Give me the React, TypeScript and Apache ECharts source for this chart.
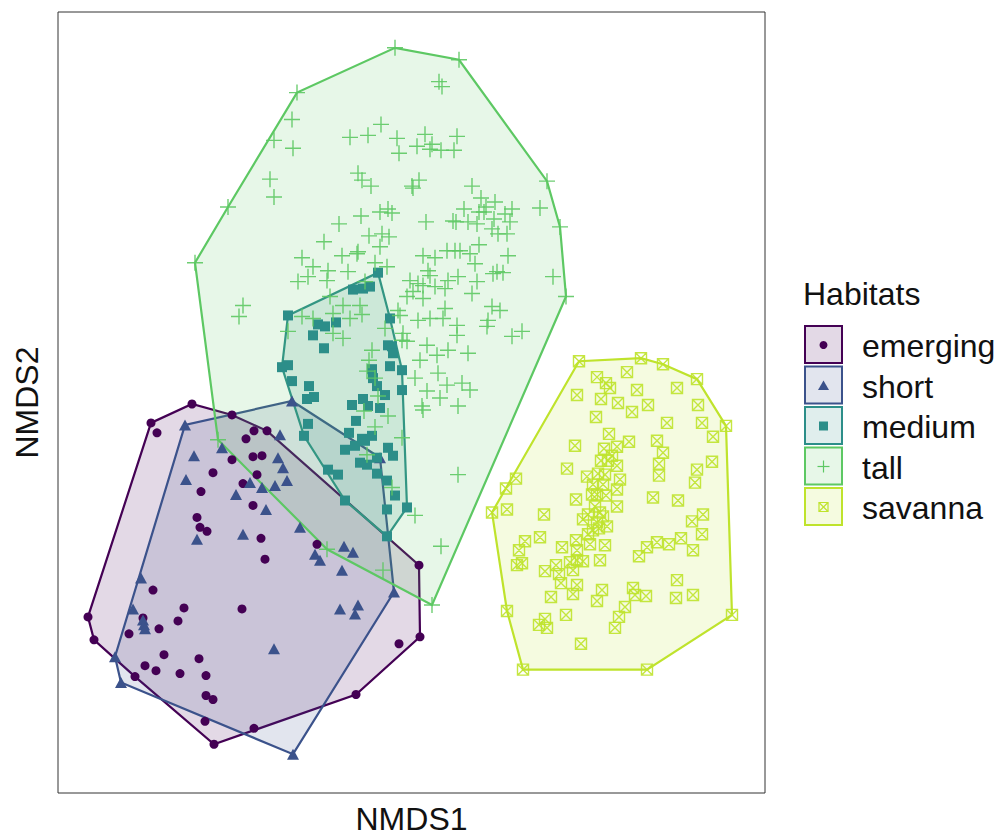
import React, { useEffect, useRef } from "react";
import * as echarts from "echarts";

const HABITATS = ["emerging", "short", "medium", "tall", "savanna"];

const EMERGING: number[][] = [
  [-2.08, -0.06], [-2.49, -0.25], [-2.43, -0.35], [-1.68, -0.17], [-1.46, -0.33], [-1.33, -0.33],
  [-1.54, -0.41], [-1.68, -0.62], [-1.47, -0.59], [-1.38, -0.58], [-1.87, -0.75], [-1.43, -0.77],
  [-1.57, -0.86], [-1.99, -0.94], [-1.47, -1.08], [-2.03, -1.2], [-2.0, -1.3], [-1.93, -1.34],
  [-1.39, -1.41], [-1.35, -1.62], [-0.83, -1.47], [0.19, -1.68], [-1.58, -2.12], [0.2, -2.4],
  [-0.01, -2.47], [-0.44, -2.98], [-1.46, -3.32], [-2.47, -1.93], [-2.16, -2.11], [-3.12, -2.2],
  [-2.57, -2.21], [-2.22, -2.24], [-2.41, -2.32], [-2.71, -2.37], [-3.06, -2.43], [-2.36, -2.58],
  [-2.01, -2.62], [-2.55, -2.69], [-2.44, -2.74], [-2.2, -2.77], [-1.94, -2.79], [-2.65, -2.8],
  [-1.94, -2.99], [-1.87, -3.03], [-1.95, -3.25], [-1.86, -3.48],
];

const SHORT: number[][] = [
  [-2.15, -0.27], [-2.06, -0.58], [-1.78, -0.5], [-2.14, -0.82], [-1.5, -0.85], [-1.38, -0.9],
  [-1.64, -0.97], [-1.34, -1.12], [-1.57, -1.37], [-2.03, -1.42], [-2.59, -1.81], [-1.08, -0.03],
  [-1.2, -0.37], [-0.2, -0.6], [-1.22, -0.6], [-1.17, -0.7], [-1.13, -0.83], [-1.25, -0.88],
  [-1.0, -1.3], [-0.85, -1.57], [-0.8, -1.63], [-0.56, -1.49], [-0.47, -1.55], [-0.58, -1.73],
  [-0.06, -1.95], [-0.6, -2.12], [-0.42, -2.08], [-0.45, -2.17], [-1.26, -2.52], [-1.07, -3.58],
  [-2.67, -2.12], [-2.57, -2.23], [-2.56, -2.28], [-2.55, -2.32], [-2.85, -2.6], [-2.79, -2.86],
];

const MEDIUM: number[][] = [
  [-0.22, 1.26], [-0.47, 1.09], [-0.37, 1.1], [-0.3, 1.12], [-1.12, 0.83], [-0.82, 0.74],
  [-0.75, 0.72], [-0.64, 0.76], [-0.87, 0.63], [-0.76, 0.5], [-0.1, 0.8], [-0.12, 0.53],
  [-0.08, 0.52], [-0.07, 0.45], [-0.1, 0.32], [0.02, 0.28], [-1.18, 0.31], [-1.12, 0.33],
  [-1.08, 0.17], [-0.28, 0.29], [-0.27, 0.2], [-0.23, 0.12], [-0.15, 0.03], [0.02, 0.08],
  [-0.91, 0.12], [-0.93, -0.01], [-0.86, 0.01], [-0.48, -0.07], [-0.37, -0.01], [-0.32, -0.08],
  [-0.2, -0.1], [-0.44, -0.23], [-0.92, -0.26], [-0.96, -0.38], [-0.51, -0.35], [-0.38, -0.41],
  [-0.28, -0.38], [-0.12, -0.5], [-0.55, -0.52], [-0.45, -0.48], [-0.35, -0.43], [-0.07, -0.58],
  [-0.4, -0.65], [-0.33, -0.67], [-0.23, -0.6], [-0.72, -0.72], [-0.62, -0.77], [-0.23, -0.76],
  [-0.13, -0.83], [-0.05, -0.98], [-0.55, -1.03], [-0.13, -1.12], [0.07, -1.1], [-0.13, -1.39],
];

const TALL: number[][] = [
  [-0.05, 3.52], [-1.03, 3.07], [-1.08, 2.8], [-1.26, 2.59], [-1.07, 2.51], [-1.3, 2.2],
  [-1.26, 2.02], [-1.72, 1.92], [-2.05, 1.36], [-0.19, 2.75], [-0.32, 2.64], [-0.5, 2.62],
  [-0.03, 2.61], [-0.01, 2.46], [-0.42, 2.26], [-0.38, 2.19], [-0.29, 2.13], [-0.12, 1.9],
  [-0.08, 1.86], [-0.2, 1.87], [-0.39, 1.83], [-0.61, 1.75], [-0.31, 1.63], [-0.18, 1.65],
  [-0.11, 1.62], [-0.76, 1.57], [-0.2, 1.52], [-0.42, 1.47], [-0.58, 1.43], [-0.98, 1.41],
  [-0.25, 1.36], [0.59, 3.4], [0.39, 3.18], [0.42, 3.13], [0.25, 2.65], [0.17, 2.53],
  [0.32, 2.55], [0.3, 2.5], [0.41, 2.49], [0.54, 2.49], [0.57, 2.63], [0.12, 2.13],
  [0.19, 2.19], [0.13, 2.11], [0.72, 2.13], [1.47, 2.18], [1.4, 1.91], [1.6, 1.72],
  [0.26, 1.77], [0.53, 1.78], [0.56, 1.77], [0.64, 1.9], [0.81, 2.01], [0.86, 1.92],
  [0.95, 1.97], [0.84, 1.87], [0.79, 1.87], [0.68, 1.77], [0.77, 1.75], [0.94, 1.8],
  [0.92, 1.7], [0.98, 1.65], [1.07, 1.65], [1.1, 1.77], [1.12, 1.9], [1.05, 1.85],
  [0.47, 1.48], [0.55, 1.48], [0.6, 1.48], [0.7, 1.45], [0.79, 1.54], [0.23, 1.43],
  [0.35, 1.41], [1.08, 1.43], [-0.87, 1.32], [-0.92, 1.22], [-1.02, 1.17], [-0.72, 1.28],
  [-0.73, 1.18], [-0.52, 1.27], [-0.43, 1.45], [-0.35, 1.17], [-1.57, 0.93], [-1.61, 0.82],
  [-0.7, 1.02], [-0.57, 0.93], [-0.4, 0.93], [-0.38, 0.84], [-0.5, 0.8], [-0.67, 0.85],
  [-0.87, 0.8], [-0.98, 0.82], [-1.12, 0.67], [-0.67, 0.65], [-0.57, 0.6], [-0.28, 0.48],
  [-0.31, 0.38], [-0.33, 0.27], [-0.25, 0.2], [-0.22, 0.02], [-0.36, -0.13], [-0.25, -0.29],
  [-1.82, -0.42], [-0.13, 1.32], [0.75, 1.35], [0.28, 1.28], [0.3, 1.23], [0.58, 1.22],
  [0.48, 1.18], [0.1, 1.18], [0.18, 1.15], [0.13, 1.07], [0.23, 1.13], [0.35, 1.12],
  [0.45, 1.1], [0.77, 1.17], [0.72, 1.05], [0.93, 1.25], [0.97, 1.27], [1.03, 1.26],
  [1.53, 1.22], [1.66, 1.02], [0.07, 1.02], [0.23, 1.0], [-0.02, 0.88], [0.0, 0.83],
  [0.18, 0.78], [0.3, 0.8], [0.45, 0.9], [0.43, 0.8], [0.57, 0.73], [0.57, 0.63],
  [0.92, 0.92], [1.0, 0.88], [0.88, 0.78], [0.87, 0.72], [1.12, 0.62], [1.22, 0.67],
  [-0.15, 0.7], [0.03, 0.65], [0.02, 0.58], [0.07, 0.57], [0.27, 0.53], [0.48, 0.48],
  [0.68, 0.45], [0.37, 0.43], [0.2, 0.38], [0.38, 0.25], [0.15, 0.2], [0.47, 0.13],
  [0.62, 0.15], [0.7, 0.08], [0.27, 0.07], [0.4, 0.0], [0.22, -0.08], [0.23, -0.12],
  [0.58, -0.08], [-0.12, -0.18], [0.02, -0.4], [0.58, -0.77], [0.15, -1.18], [0.41, -1.49],
  [-0.17, -1.73], [-0.73, -1.52], [0.32, -2.08], [-0.08, -0.9], [-0.33, -0.57],
];

const SAVANNA: number[][] = [
  [1.79, 0.37], [1.97, 0.21], [2.06, 0.15], [2.1, 0.1], [1.77, 0.03], [2.01, -0.01],
  [2.18, -0.05], [1.96, -0.19], [2.09, -0.36], [1.75, -0.48], [2.04, -0.51], [2.17, -0.49],
  [2.12, -0.58], [2.01, -0.63], [2.08, -0.63], [2.17, -0.68], [1.67, -0.71], [1.87, -0.79],
  [1.98, -0.76], [2.05, -0.77], [1.93, -0.87], [2.03, -0.87], [1.92, -0.97], [1.97, -0.97],
  [2.06, -0.98], [2.17, -0.92], [1.76, -1.02], [1.16, -0.81], [1.06, -0.91], [1.07, -1.12],
  [0.92, -1.15], [1.95, -1.09], [2.0, -1.15], [1.44, -1.17], [1.88, -1.17], [2.17, -1.09],
  [2.41, 0.4], [2.63, 0.34], [2.97, 0.19], [3.26, -0.28], [2.27, 0.26], [2.37, 0.08],
  [2.77, 0.1], [2.48, -0.07], [2.32, -0.14], [2.98, -0.07], [2.67, -0.25], [3.02, -0.25],
  [3.13, -0.39], [2.29, -0.44], [2.57, -0.43], [2.63, -0.55], [3.12, -0.64], [2.59, -0.66],
  [2.97, -0.72], [2.59, -0.78], [2.2, -0.82], [2.95, -0.85], [2.53, -1.0], [2.78, -1.03],
  [3.03, -1.17], [1.83, -1.22], [2.03, -1.19], [1.97, -1.25], [2.92, -1.24], [1.25, -1.44],
  [1.4, -1.4], [1.19, -1.53], [1.76, -1.43], [1.88, -1.37], [1.93, -1.33], [1.99, -1.31],
  [2.07, -1.29], [1.9, -1.47], [2.05, -1.48], [1.62, -1.5], [1.77, -1.53], [2.47, -1.5],
  [2.57, -1.45], [2.69, -1.47], [2.81, -1.41], [3.02, -1.37], [2.93, -1.53], [2.39, -1.59],
  [1.17, -1.68], [1.22, -1.66], [1.56, -1.68], [1.7, -1.65], [1.77, -1.63], [1.83, -1.64],
  [2.0, -1.63], [1.45, -1.74], [1.73, -1.73], [1.59, -1.77], [1.61, -1.86], [1.77, -1.88],
  [1.73, -1.97], [2.02, -1.93], [2.33, -1.91], [2.35, -1.98], [2.46, -1.99], [2.77, -1.83],
  [2.76, -2.01], [2.93, -1.98], [1.51, -2.0], [1.97, -2.04], [2.25, -2.1], [1.07, -2.14],
  [1.66, -2.18], [2.19, -2.2], [1.45, -2.22], [1.39, -2.28], [1.47, -2.31], [2.15, -2.31],
  [1.81, -2.47], [1.23, -2.73], [2.47, -2.73], [3.32, -2.18],
];

const GROUPS = [EMERGING, SHORT, MEDIUM, TALL, SAVANNA];
const COLORS = ["#440154", "#3B528B", "#2C8E89", "#5DC863", "#BFE32C"];

const PLUS = "path://M0,5L10,5M5,0L5,10";
const BOXX = "path://M0,0L10,0L10,10L0,10ZM0,0L10,10M10,0L0,10";

function convexHull(pts: number[][]): number[][] {
  const p = pts.slice().sort((a, b) => (a[0] - b[0]) || (a[1] - b[1]));
  const cross = (o: number[], a: number[], b: number[]) =>
    (a[0] - o[0]) * (b[1] - o[1]) - (a[1] - o[1]) * (b[0] - o[0]);
  const lower: number[][] = [];
  for (const q of p) {
    while (lower.length >= 2 && cross(lower[lower.length - 2], lower[lower.length - 1], q) <= 0) lower.pop();
    lower.push(q);
  }
  const upper: number[][] = [];
  for (let i = p.length - 1; i >= 0; i--) {
    const q = p[i];
    while (upper.length >= 2 && cross(upper[upper.length - 2], upper[upper.length - 1], q) <= 0) upper.pop();
    upper.push(q);
  }
  upper.pop();
  lower.pop();
  return lower.concat(upper);
}

function rgba(hex: string, a: number) {
  const n = parseInt(hex.slice(1), 16);
  return `rgba(${(n >> 16) & 255},${(n >> 8) & 255},${n & 255},${a})`;
}

const FONT = "'Liberation Sans', Arial, Helvetica, sans-serif";

export default function App() {
  const ref = useRef<HTMLDivElement>(null);
  useEffect(() => {
    if (!ref.current) return;
    const chart = echarts.init(ref.current, undefined, { renderer: "svg" });

    const hullSeries = GROUPS.map((g, i) => {
      const h = convexHull(g);
      return {
        type: "custom",
        name: HABITATS[i] + "-hull",
        silent: true,
        z: 1,
        data: [h[0]],
        renderItem: (_params: any, api: any) => ({
          type: "polygon",
          shape: { points: h.map((p) => api.coord(p)) },
          style: { fill: rgba(COLORS[i], 0.15), stroke: COLORS[i], lineWidth: 2.2 },
        }),
      };
    });

    const symbols: any[] = ["circle", "triangle", "rect", PLUS, BOXX];
    const sizes: any[] = [9, [12, 11], 10, 16, 11];
    const pointSeries = GROUPS.map((g, i) => {
      const hollow = i >= 3;
      return {
        type: "scatter",
        name: HABITATS[i],
        z: 3,
        symbol: symbols[i],
        symbolSize: sizes[i],
        data: g,
        itemStyle: hollow
          ? { color: "rgba(0,0,0,0)", borderColor: COLORS[i], borderWidth: 1.4, opacity: 0.9 }
          : { color: COLORS[i], opacity: 1 },
      };
    });

    const legend: any[] = [
      {
        type: "text",
        left: 803,
        top: 278,
        style: { text: "Habitats", font: `32px ${FONT}`, fill: "#111" },
      },
    ];
    HABITATS.forEach((name, i) => {
      const y0 = 326 + i * 40.5;
      const cx = 823.5;
      const cy = y0 + 19;
      const c = COLORS[i];
      legend.push({
        type: "rect",
        shape: { x: 805, y: y0, width: 37, height: 37 },
        style: { fill: rgba(c, 0.15), stroke: c, lineWidth: 2 },
      });
      if (i === 0) legend.push({ type: "circle", shape: { cx, cy, r: 4 }, style: { fill: c } });
      if (i === 1)
        legend.push({
          type: "polygon",
          shape: { points: [[cx, cy - 5], [cx + 5.5, cy + 4.5], [cx - 5.5, cy + 4.5]] },
          style: { fill: c },
        });
      if (i === 2) legend.push({ type: "rect", shape: { x: cx - 4.5, y: cy - 4.5, width: 9, height: 9 }, style: { fill: c } });
      if (i === 3) {
        legend.push({ type: "line", shape: { x1: cx - 6, y1: cy, x2: cx + 6, y2: cy }, style: { stroke: c, lineWidth: 1.2 } });
        legend.push({ type: "line", shape: { x1: cx, y1: cy - 6, x2: cx, y2: cy + 6 }, style: { stroke: c, lineWidth: 1.2 } });
      }
      if (i === 4) {
        legend.push({ type: "rect", shape: { x: cx - 4.5, y: cy - 4.5, width: 9, height: 9 }, style: { fill: "none", stroke: c, lineWidth: 1.2 } });
        legend.push({ type: "line", shape: { x1: cx - 4.5, y1: cy - 4.5, x2: cx + 4.5, y2: cy + 4.5 }, style: { stroke: c, lineWidth: 1.2 } });
        legend.push({ type: "line", shape: { x1: cx + 4.5, y1: cy - 4.5, x2: cx - 4.5, y2: cy + 4.5 }, style: { stroke: c, lineWidth: 1.2 } });
      }
      legend.push({
        type: "text",
        x: 862,
        y: cy + 1,
        style: { text: name, font: `32px ${FONT}`, fill: "#111", verticalAlign: "middle", align: "left" },
      });
    });

    chart.setOption({
      animation: false,
      backgroundColor: "#ffffff",
      grid: { left: 58, top: 12, width: 707, height: 785, show: true, borderColor: "#333", borderWidth: 1, backgroundColor: "transparent" },
      xAxis: {
        type: "value",
        min: -3.42,
        max: 3.65,
        name: "NMDS1",
        nameLocation: "middle",
        nameGap: 10,
        nameTextStyle: { fontSize: 32, fontFamily: FONT, color: "#111" },
        axisLine: { show: false },
        axisTick: { show: false },
        axisLabel: { show: false },
        splitLine: { show: false },
      },
      yAxis: {
        type: "value",
        min: -3.97,
        max: 3.88,
        name: "NMDS2",
        nameLocation: "middle",
        nameGap: 15,
        nameRotate: 90,
        nameTextStyle: { fontSize: 32, fontFamily: FONT, color: "#111" },
        axisLine: { show: false },
        axisTick: { show: false },
        axisLabel: { show: false },
        splitLine: { show: false },
      },
      series: [...hullSeries, ...pointSeries],
      graphic: legend,
    });
    return () => chart.dispose();
  }, []);
  return (
    <div
      ref={ref}
      style={{ position: "fixed", left: 0, top: 0, width: 1003, height: 840, background: "#fff" }}
    />
  );
}
